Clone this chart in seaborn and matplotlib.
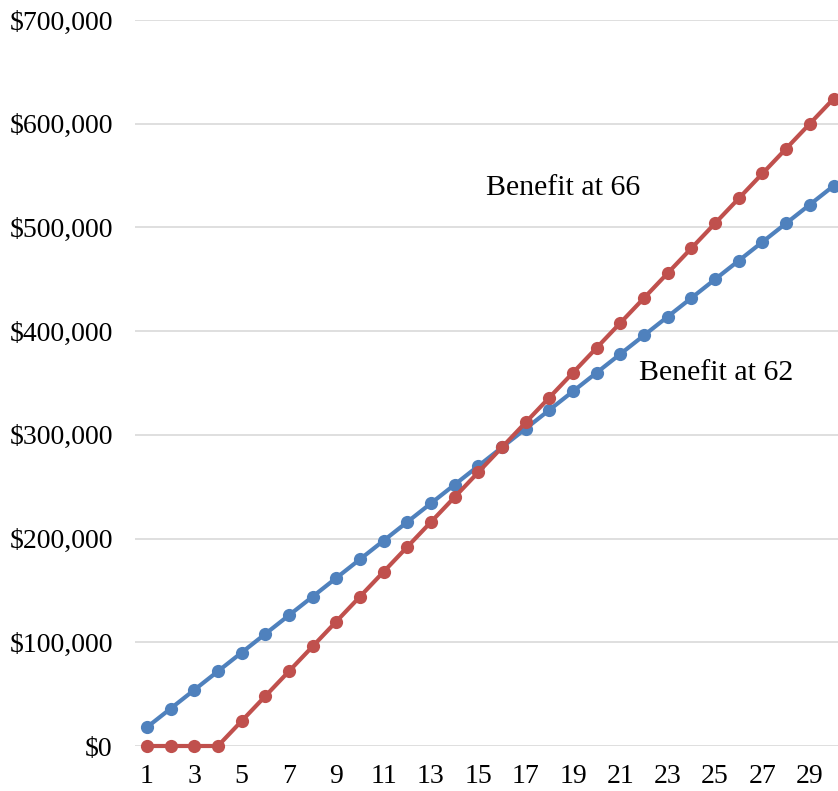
import matplotlib
matplotlib.use("Agg")
import matplotlib.pyplot as plt
import seaborn as sns
import pandas as pd
from matplotlib.ticker import FuncFormatter

years = list(range(1, 31))
benefit_62 = [18000, 36000, 54000, 72000, 90000, 108000, 126000, 144000, 162000, 180000,
              198000, 216000, 234000, 252000, 270000, 288000, 306000, 324000, 342000, 360000,
              378000, 396000, 414000, 432000, 450000, 468000, 486000, 504000, 522000, 540000]
benefit_66 = [0, 0, 0, 0, 24000, 48000, 72000, 96000, 120000, 144000,
              168000, 192000, 216000, 240000, 264000, 288000, 312000, 336000, 360000, 384000,
              408000, 432000, 456000, 480000, 504000, 528000, 552000, 576000, 600000, 624000]
x_ticks = list(range(1, 30, 2))
y_ticks = [0, 100000, 200000, 300000, 400000, 500000, 600000, 700000]

sns.set_theme(style="white")
plt.rcParams['font.family'] = ['Liberation Serif', 'DejaVu Serif']

df = pd.DataFrame({
    "year": years * 2,
    "value": benefit_62 + benefit_66,
    "series": ["Benefit at 62"] * len(years) + ["Benefit at 66"] * len(years),
})

fig = plt.figure(figsize=(8.38, 7.91), dpi=100)
ax = fig.add_axes([135 / 838, 45 / 791, 1 - 135 / 838, 726 / 791])

sns.lineplot(data=df, x="year", y="value", hue="series",
             palette={"Benefit at 62": "#4F81BD", "Benefit at 66": "#C0504D"},
             marker="o", markersize=9.5, markeredgewidth=0, linewidth=3.0,
             legend=False, ax=ax, clip_on=False, zorder=3)

ax.set_xlim(0.5, 30.19)
ax.set_ylim(0, 700000)
ax.set_xticks(x_ticks)
ax.set_yticks(y_ticks)
ax.yaxis.set_major_formatter(FuncFormatter(lambda v, p: "${:,.0f}".format(v)))
ax.grid(axis="y", color="#D9D9D9", linewidth=1.2)
ax.set_axisbelow(True)
for s in ax.spines.values():
    s.set_visible(False)
ax.tick_params(axis="both", length=0, labelsize=20, colors="black")
ax.tick_params(axis="y", pad=16)
ax.tick_params(axis="x", pad=13)
ax.set_xlabel("")
ax.set_ylabel("")

ax.text(15.32, 538000, "Benefit at 66", fontsize=21.5, va="center", ha="left", color="black")
ax.text(21.78, 359600, "Benefit at 62", fontsize=21.5, va="center", ha="left", color="black")

fig.savefig("out.png", dpi=100)
